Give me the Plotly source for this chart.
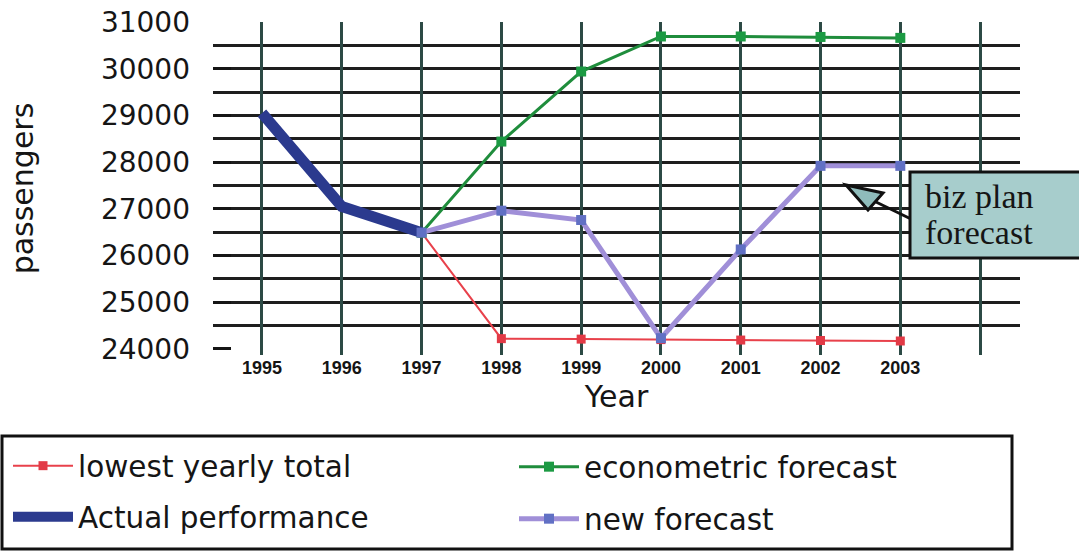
import plotly.graph_objects as go

# ---- data -------------------------------------------------------------
years_actual = [1995, 1996, 1997]
actual_performance = [29050, 27050, 26490]

years_forecast = [1997, 1998, 1999, 2000, 2001, 2002, 2003]
lowest_yearly_total = [26490, 24220, 24210, 24200, 24190, 24180, 24170]
econometric_forecast = [26490, 28440, 29940, 30690, 30690, 30680, 30660]
new_forecast = [26490, 26960, 26760, 24230, 26130, 27920, 27920]

year_ticks = [1995, 1996, 1997, 1998, 1999, 2000, 2001, 2002, 2003, 2004]
year_labels = ["1995", "1996", "1997", "1998", "1999", "2000", "2001", "2002", "2003", ""]
passenger_ticks = [24000, 25000, 26000, 27000, 28000, 29000, 30000, 31000]
half_grid = [24500, 25000, 25500, 26000, 26500, 27000, 27500, 28000,
             28500, 29000, 29500, 30000, 30500]

# ---- page geometry ----------------------------------------------------
W, H = 1079, 554
ML, MR, MT, MB = 213, 59, 22, 199
PW, PH = W - ML - MR, H - MT - MB


def px(x, y):
    """Convert page pixels to paper coordinates."""
    return (x - ML) / PW, (H - MB - y) / PH


SANS = "DejaVu Sans, Arial, sans-serif"
ARIAL = "Liberation Sans, Arial, sans-serif"
SERIF = "Liberation Serif, Times New Roman, serif"
INK = "#151515"

fig = go.Figure()

fig.add_trace(go.Scatter(
    x=years_forecast, y=lowest_yearly_total, name="lowest yearly total",
    mode="lines+markers", line=dict(color="#e8414b", width=2),
    marker=dict(symbol="square", size=9, color="#e23a46"),
    legend="legend"))

fig.add_trace(go.Scatter(
    x=years_forecast, y=econometric_forecast, name="econometric forecast",
    mode="lines+markers", line=dict(color="#1f8d3c", width=3),
    marker=dict(symbol="square", size=10, color="#1c9a43"),
    legend="legend2"))

fig.add_trace(go.Scatter(
    x=years_actual, y=actual_performance, name="Actual performance",
    mode="lines", line=dict(color="#2b3a8e", width=11),
    legend="legend3"))

fig.add_trace(go.Scatter(
    x=years_forecast, y=new_forecast, name="new forecast",
    mode="lines+markers", line=dict(color="#a08fd8", width=5),
    marker=dict(symbol="square", size=10, color="#6170c4"),
    legend="legend4"))

# ---- callout box with arrow ---------------------------------------------
tip = px(846, 185)
c1 = px(868, 210)
c2 = px(883, 193)
base_mid = px(876, 202)
tail = px(911, 219)
box0 = px(910, 172)
box1 = px(1090, 258)

shapes = [
    dict(type="line", xref="paper", yref="paper",
         x0=base_mid[0], y0=base_mid[1], x1=tail[0], y1=tail[1],
         line=dict(color="#111111", width=3)),
    dict(type="path", xref="paper", yref="paper",
         path=f"M{tip[0]},{tip[1]} L{c1[0]},{c1[1]} L{c2[0]},{c2[1]} Z",
         fillcolor="#8fbcbb", line=dict(color="#111111", width=3)),
    dict(type="rect", xref="paper", yref="paper",
         x0=box0[0], y0=box0[1], x1=box1[0], y1=box1[1],
         fillcolor="#a7cdcc", line=dict(color="#111111", width=3)),
]

# legend frame
lx0, ly0 = px(2, 436)
lx1, ly1 = px(1012, 549)
shapes.append(dict(type="rect", xref="paper", yref="paper",
                   x0=lx0, y0=ly0, x1=lx1, y1=ly1,
                   line=dict(color="#111111", width=3)))

t1x, t1y = px(923, 196)
_, t2y = px(0, 232)
ytx, yty = px(609, 394)
annotations = [
    dict(xref="paper", yref="paper", x=t1x, y=t1y, xanchor="left", yanchor="middle",
         text="biz plan", showarrow=False,
         font=dict(family=SERIF, size=34, color=INK)),
    dict(xref="paper", yref="paper", x=t1x, y=t2y, xanchor="left", yanchor="middle",
         text="forecast", showarrow=False,
         font=dict(family=SERIF, size=34, color=INK)),
]


def legend_at(x_px, y_px):
    lx, ly = px(x_px, y_px)
    return dict(orientation="h", x=lx, xanchor="left", y=ly, yanchor="middle",
                itemwidth=60, bgcolor="rgba(0,0,0,0)",
                font=dict(family=SANS, size=29.5, color=INK))


fig.update_layout(
    width=W, height=H, autosize=False, showlegend=True,
    margin=dict(l=ML, r=MR, t=MT, b=MB, autoexpand=False),
    paper_bgcolor="white", plot_bgcolor="white",
    font=dict(family=SANS, color=INK),
    xaxis=dict(
        range=[1994.386, 2004.5], tickvals=year_ticks, ticktext=year_labels,
        showgrid=True, gridcolor="#2c4a45", gridwidth=2.5,
        zeroline=False, showline=False, ticks="",
        tickfont=dict(family=ARIAL, size=18, color=INK, weight="bold"),
        title=dict(text="Year", font=dict(family=SANS, size=30, color=INK),
                   standoff=8),
    ),
    yaxis=dict(
        range=[23870, 31000], tickvals=passenger_ticks, tickformat="d",
        showgrid=False, zeroline=False, showline=False,
        ticks="inside", ticklen=18, tickwidth=3, tickcolor=INK,
        ticklabelstandoff=22,
        tickfont=dict(family=SANS, size=28, color=INK),
        minor=dict(tickvals=half_grid, showgrid=True, gridcolor="#1e1e1e",
                   gridwidth=2.5, ticks=""),
        title=dict(text="passengers", font=dict(family=SANS, size=30, color=INK),
                   standoff=58),
    ),
    legend=legend_at(8, 466),
    legend2=legend_at(514, 467),
    legend3=legend_at(8, 517),
    legend4=legend_at(514, 519),
    shapes=shapes,
    annotations=annotations,
)

fig.write_html("out.html")
